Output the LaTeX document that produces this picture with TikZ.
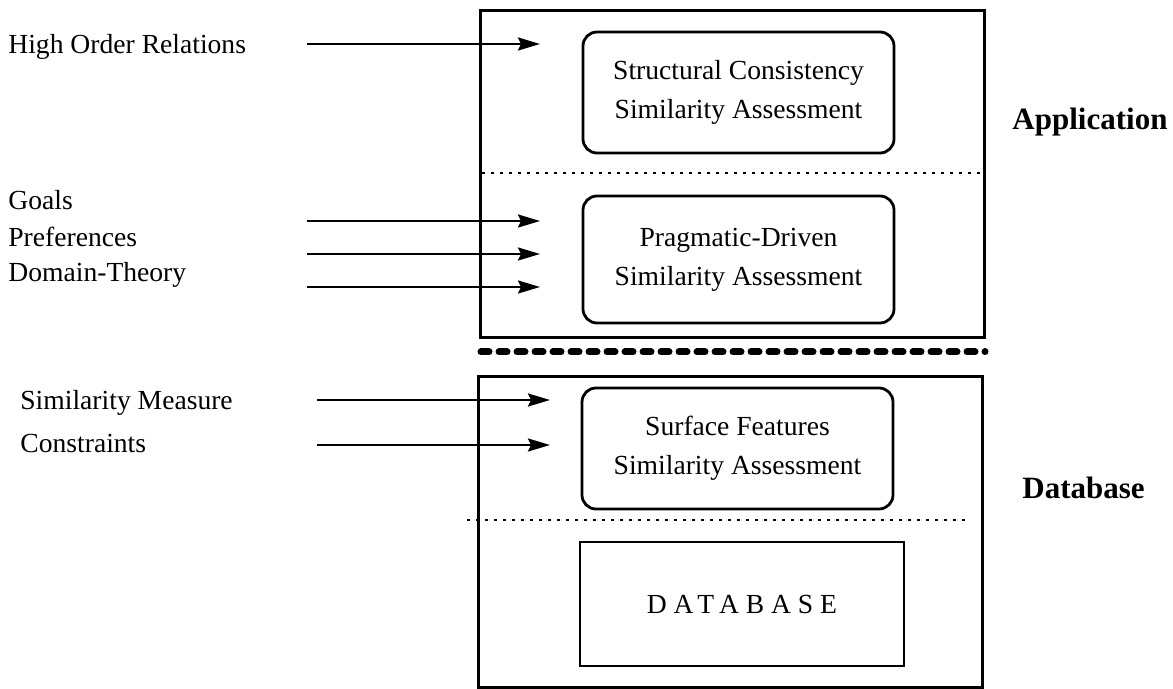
\documentclass[tikz,border=0pt]{standalone}
\usepackage{fontspec}
\setmainfont{Liberation Serif}
\usetikzlibrary{arrows.meta}

\begin{document}
\begin{tikzpicture}[x=0.5pt, y=-0.5pt,
      inbox/.style={draw, line width=1.4pt, rounded corners=7pt, minimum width=155.5pt, align=center, font=\fontsize{13.8}{19.5}\selectfont},
      lbl/.style={anchor=west, inner sep=0pt, font=\fontsize{13.8}{16}\selectfont},
      side/.style={font=\fontsize{15.5}{18}\selectfont\bfseries},
      feed/.style={line width=1.2pt, -{Stealth[length=11pt, width=6.5pt, inset=1.5pt]}},
      sep/.style={line width=1.2pt, dash pattern=on 1.4pt off 3.1pt},
      layer/.style={line width=3.5pt, line cap=round, dash pattern=on 4pt off 5pt}]
      \useasboundingbox (0,0) rectangle (1173,689);

      \draw[line width=1.5pt] (480,11) rectangle (984,338);
      \draw[line width=1.5pt] (478,377) rectangle (982,687);
      \draw[sep] (482,173) -- (981,173);
      \draw[sep] (467,520) -- (967,520);
      \draw[layer] (481,352) -- (985,352);

      \node[inbox, minimum height=60.5pt] (structural) at (738.5,92.5) {Structural Consistency\\Similarity Assessment};
      \node[inbox, minimum height=63.5pt] (pragmatic) at (738.5,259.5) {Pragmatic-Driven\\Similarity Assessment};
      \node[inbox, minimum height=60.5pt] (surface) at (737.5,448.5) {Surface Features\\Similarity Assessment};
      \node[draw, line width=1.4pt, minimum width=162pt, minimum height=62pt, font=\fontsize{13.8}{16}\selectfont] (dbbox) at (742,604) {\addfontfeature{LetterSpace=25}DATABASE};

      \node[side] (application) at (1090,122) {Application};
      \node[side] (database) at (1083.5,488) {Database};

      \node[lbl] (highorder) at (8,47) {High Order Relations};
      \node[lbl] (goals) at (8,200) {Goals};
      \node[lbl] (preferences) at (8,237) {Preferences};
      \node[lbl] (domain) at (8,275) {Domain-Theory};
      \node[lbl] (measure) at (20,403) {Similarity Measure};
      \node[lbl] (constraints) at (20,443) {Constraints};

      \foreach \name/\y in {hor/44, gls/221, prf/254, dom/287} {
        \coordinate (\name-a) at (307,\y);
        \coordinate (\name-b) at (540,\y);
        \draw[feed] (\name-a) -- (\name-b);
      }
      \foreach \name/\y in {msr/400, cst/445} {
        \coordinate (\name-a) at (317,\y);
        \coordinate (\name-b) at (550,\y);
        \draw[feed] (\name-a) -- (\name-b);
      }
\end{tikzpicture}
\end{document}
